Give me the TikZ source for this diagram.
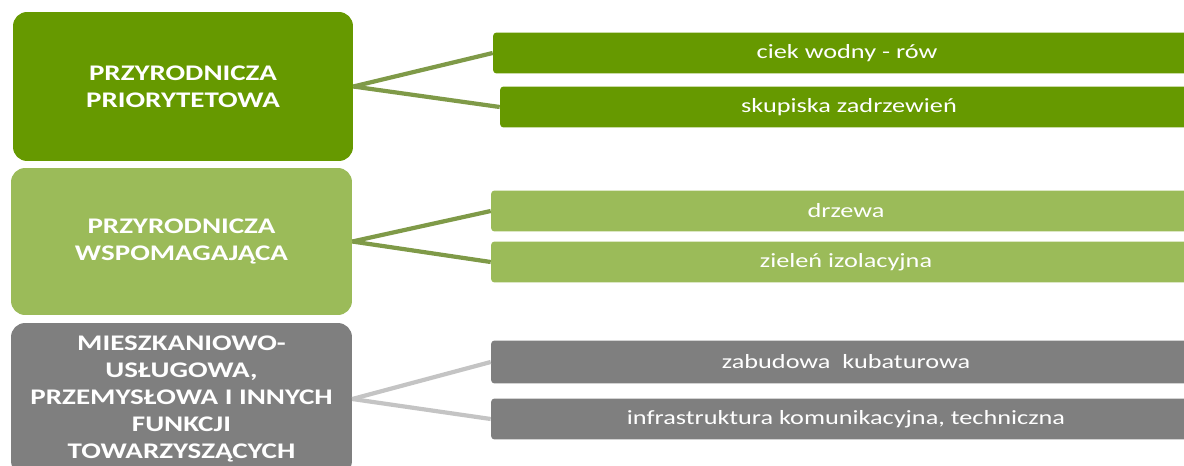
\documentclass[tikz,border=0pt]{standalone}
\usepackage{fontspec}
\setmainfont{Carlito}[FakeStretch=1.3]
\definecolor{ciemna}{HTML}{669900}
\definecolor{jasna}{HTML}{9BBB59}
\definecolor{szara}{HTML}{7F7F7F}
\definecolor{linia}{HTML}{7F9A48}
\definecolor{liniaszara}{HTML}{C4C4C4}
\tikzset{
  kat/.style={rounded corners=8pt, text=white, align=center, inner sep=0pt,
    font=\bfseries\fontsize{12.7}{15.4}\selectfont},
  pod/.style={rounded corners=2pt, text=white, inner sep=0pt,
    minimum height=0.82cm, font=\fontsize{11.5}{12}\selectfont},
}
\begin{document}
\begin{tikzpicture}[x=0.02cm,y=-0.02cm]
      \useasboundingbox (0,0) rectangle (1184,466);
      \clip (0,0) rectangle (1184,466);
      \draw
        (183,86.5) node[kat,fill=ciemna,minimum width=6.8cm,minimum height=2.98cm] (p1){PRZYRODNICZA\\PRIORYTETOWA}
        (181.5,241.5) node[kat,fill=jasna,minimum width=6.82cm,minimum height=2.94cm] (p2){PRZYRODNICZA\\WSPOMAGAJĄCA}
        (181.5,399) node[kat,fill=szara,minimum width=6.82cm,minimum height=3.04cm] (p3){MIESZKANIOWO-\\USŁUGOWA,\\PRZEMYSŁOWA I INNYCH\\FUNKCJI\\TOWARZYSZĄCYCH}
        (847,53) node[pod,fill=ciemna,minimum width=14.16cm] (c1){ciek wodny - rów}
        (849,107) node[pod,fill=ciemna,minimum width=13.96cm] (c2){skupiska zadrzewień}
        (846,211) node[pod,fill=jasna,minimum width=14.2cm] (c3){drzewa}
        (846,262) node[pod,fill=jasna,minimum width=14.2cm] (c4){zieleń izolacyjna}
        (846,362) node[pod,fill=szara,minimum width=14.2cm,minimum height=0.86cm] (c5){zabudowa\ \ kubaturowa}
        (846,419) node[pod,fill=szara,minimum width=14.2cm] (c6){infrastruktura komunikacyjna, techniczna};
      \begin{scope}[-,line width=2.4pt,draw=linia]
        \draw (p1.east) to (c1.west);
        \draw (p1.east) to (c2.west);
        \draw (p2.east) to (c3.west);
        \draw (p2.east) to (c4.west);
      \end{scope}
      \begin{scope}[-,line width=2.4pt,draw=liniaszara]
        \draw (p3.east) to (c5.west);
        \draw (p3.east) to (c6.west);
      \end{scope}
    \end{tikzpicture}
\end{document}
